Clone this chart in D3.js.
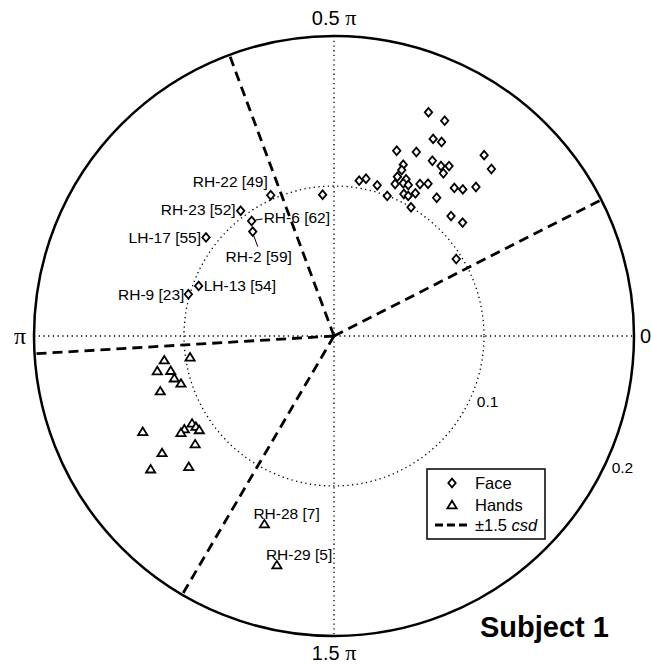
<!DOCTYPE html>
<html>
<head>
<meta charset="utf-8">
<script src="https://cdn.jsdelivr.net/npm/d3@7"></script>
<style>
  body { margin: 0; background: #fff; }
  svg { display: block; font-family: "Liberation Sans", Arial, sans-serif; }
</style>
</head>
<body>
<svg id="chart"></svg>
<script>
// angles in degrees, radius in data units (outer ring = 0.2)
var faceTheta = [67.1, 62.8, 63.3, 61.0, 71.3, 65.9, 50.3, 46.7, 60.7, 57.8, 55.9, 56.1, 68.0, 67.8, 68.3, 65.3, 65.6, 63.8, 68.1,
                 60.5, 58.3, 80.8, 78.5, 74.0, 69.2, 63.8, 62.1, 60.3, 59.1, 53.4, 50.9, 48.7, 46.4, 45.7, 41.4, 32.2, 94.6];
var faceRho = [0.1619, 0.1614, 0.1471, 0.1479, 0.1304, 0.1344, 0.1567, 0.1530, 0.1340, 0.1339, 0.1368, 0.1307, 0.1232, 0.1195,
               0.1143, 0.1150, 0.1118, 0.1122, 0.1092, 0.1164, 0.1193, 0.1049, 0.1070, 0.1045, 0.0999, 0.1055, 0.1057, 0.1095,
               0.1000, 0.1148, 0.1272, 0.1301, 0.1372, 0.1117, 0.1143, 0.0963, 0.0945];

var handsTheta = [188.1, 188.4, 191.2, 192.0, 194.8, 197.2, 197.6, 211.6, 213.3, 214.9, 211.9, 212.3, 206.6, 217.9, 214.2, 216.0, 222.0];
var handsRho = [0.1143, 0.0970, 0.1201, 0.1113, 0.1101, 0.1068, 0.1215, 0.1111, 0.1101, 0.1095, 0.1175, 0.1207, 0.1426, 0.1173,
                0.1386, 0.1511, 0.1303];

var faceLabelNames = ["RH-22 [49]", "RH-23 [52]", "RH-6 [62]", "RH-2 [59]", "LH-17 [55]", "LH-13 [54]", "RH-9 [23]"];
var faceLabelTheta = [114.2, 126.7, 125.6, 127.9, 142.4, 159.7, 164.0];
var faceLabelRho = [0.1029, 0.1041, 0.0943, 0.0882, 0.1077, 0.0962, 0.1010];

var handsLabelNames = ["RH-28 [7]", "RH-29 [5]"];
var handsLabelTheta = [249.7, 256.0];
var handsLabelRho = [0.1337, 0.1574];

// mean +/- 1.5 csd boundaries
var faceCsd = [27.0, 110.4];
var handsCsd = [183.4, 239.6];

var rhoTicks = [0.1, 0.2];
var angleLabels = ["0", "0.5", "", "1.5"];

var W = 651, H = 665;
var cx = 334, cy = 336, R = 300;

var svg = d3.select("#chart").attr("width", W).attr("height", H);

var r = d3.scaleLinear().domain([0, 0.2]).range([0, R]);
function px(t, rho) { return cx + r(rho) * Math.cos(t * Math.PI / 180); }
function py(t, rho) { return cy - r(rho) * Math.sin(t * Math.PI / 180); }

// dotted axes + inner ring
svg.append("line").attr("x1", cx - R).attr("x2", cx + R).attr("y1", cy).attr("y2", cy)
    .attr("stroke", "#000").attr("stroke-width", 1.3).attr("stroke-dasharray", "1.3,3.4");
svg.append("line").attr("x1", cx).attr("x2", cx).attr("y1", cy - R).attr("y2", cy + R)
    .attr("stroke", "#000").attr("stroke-width", 1.3).attr("stroke-dasharray", "1.3,3.4");
svg.append("circle").attr("cx", cx).attr("cy", cy).attr("r", r(rhoTicks[0]))
    .attr("fill", "none").attr("stroke", "#000").attr("stroke-width", 1.3).attr("stroke-dasharray", "1.3,3.4");
svg.append("circle").attr("cx", cx).attr("cy", cy).attr("r", r(rhoTicks[1]))
    .attr("fill", "none").attr("stroke", "#000").attr("stroke-width", 2.5);

// rho labels
svg.selectAll(".rlab").data(rhoTicks).enter().append("text")
    .attr("x", function (d) { return px(-26, d) + 8; })
    .attr("y", function (d) { return py(-26, d); })
    .attr("dy", "0.35em").attr("font-size", 15.5).text(function (d) { return d; });

// angle labels
var topLab = svg.append("text").attr("x", cx).attr("y", cy - R - 11).attr("text-anchor", "middle").attr("font-size", 20);
topLab.append("tspan").text(angleLabels[1] + " ");
topLab.append("tspan").attr("font-family", "Liberation Serif, serif").attr("font-size", 22).text("\u03c0");
var botLab = svg.append("text").attr("x", cx).attr("y", cy + R + 24).attr("text-anchor", "middle").attr("font-size", 20);
botLab.append("tspan").text(angleLabels[3] + " ");
botLab.append("tspan").attr("font-family", "Liberation Serif, serif").attr("font-size", 22).text("\u03c0");
svg.append("text").attr("x", cx - R - 8).attr("y", cy).attr("dy", "0.35em").attr("text-anchor", "end")
    .attr("font-family", "Liberation Serif, serif").attr("font-size", 24).text("\u03c0");
svg.append("text").attr("x", cx + R + 6).attr("y", cy).attr("dy", "0.35em").attr("font-size", 20).text(angleLabels[0]);

// csd rays
svg.selectAll(".ray").data(faceCsd.concat(handsCsd)).enter().append("line")
    .attr("x1", cx).attr("y1", cy)
    .attr("x2", function (d) { return px(d, 0.2); })
    .attr("y2", function (d) { return py(d, 0.2); })
    .attr("stroke", "#000").attr("stroke-width", 2.8).attr("stroke-dasharray", "10,6");

var diamond = "M0,-4.3L3.7,0L0,4.3L-3.7,0Z";
var triangle = "M0,-4.2L4.6,3.3L-4.6,3.3Z";

function drawMarks(thetas, rhos, shape) {
    svg.append("g").selectAll("path").data(thetas).enter().append("path")
        .attr("d", shape)
        .attr("transform", function (d, i) { return "translate(" + px(d, rhos[i]) + "," + py(d, rhos[i]) + ")"; })
        .attr("fill", "#fff").attr("stroke", "#000").attr("stroke-width", 1.8);
}
drawMarks(faceTheta, faceRho, diamond);
drawMarks(faceLabelTheta, faceLabelRho, diamond);
drawMarks(handsTheta, handsRho, triangle);
drawMarks(handsLabelTheta, handsLabelRho, triangle);

// label placement relative to each marker
var faceLabelLayout = [
    { anchor: "end", dx: -3, dy: -14 },
    { anchor: "end", dx: -5, dy: -1 },
    { anchor: "start", dx: 12, dy: -3, lead: [4, -1, 11, -2] },
    { anchor: "middle", dx: 6, dy: 25, lead: [1, 4, 5, 15] },
    { anchor: "end", dx: -5, dy: 0 },
    { anchor: "start", dx: 5, dy: 0 },
    { anchor: "end", dx: -4, dy: 0 }
];
var handsLabelLayout = [
    { anchor: "start", dx: -11, dy: -11 },
    { anchor: "start", dx: -11, dy: -11 }
];

function drawLabels(names, thetas, rhos, layout) {
    names.forEach(function (n, i) {
        var x = px(thetas[i], rhos[i]), y = py(thetas[i], rhos[i]), L = layout[i];
        if (L.lead) {
            svg.append("line").attr("x1", x + L.lead[0]).attr("y1", y + L.lead[1])
                .attr("x2", x + L.lead[2]).attr("y2", y + L.lead[3])
                .attr("stroke", "#000").attr("stroke-width", 1);
        }
        svg.append("text").attr("x", x + L.dx).attr("y", y + L.dy).attr("dy", "0.35em")
            .attr("text-anchor", L.anchor).attr("font-size", 15.5).text(n);
    });
}
drawLabels(faceLabelNames, faceLabelTheta, faceLabelRho, faceLabelLayout);
drawLabels(handsLabelNames, handsLabelTheta, handsLabelRho, handsLabelLayout);

// legend
var lg = svg.append("g").attr("transform", "translate(427,469)");
lg.append("rect").attr("width", 118).attr("height", 70).attr("fill", "#fff").attr("stroke", "#000").attr("stroke-width", 1.5);
lg.append("path").attr("d", diamond).attr("transform", "translate(25,14)")
    .attr("fill", "#fff").attr("stroke", "#000").attr("stroke-width", 1.8);
lg.append("path").attr("d", triangle).attr("transform", "translate(25,36)")
    .attr("fill", "#fff").attr("stroke", "#000").attr("stroke-width", 1.8);
lg.append("line").attr("x1", 8).attr("x2", 42).attr("y1", 56).attr("y2", 56)
    .attr("stroke", "#000").attr("stroke-width", 2.8).attr("stroke-dasharray", "8,4");
lg.append("text").attr("x", 48).attr("y", 14).attr("dy", "0.35em").attr("font-size", 16.5).text("Face");
lg.append("text").attr("x", 48).attr("y", 36).attr("dy", "0.35em").attr("font-size", 16.5).text("Hands");
var csdText = lg.append("text").attr("x", 48).attr("y", 56).attr("dy", "0.35em").attr("font-size", 16.5);
csdText.append("tspan").text("\u00b11.5 ");
csdText.append("tspan").attr("font-style", "italic").text("csd");

svg.append("text").attr("x", 480).attr("y", 637).attr("font-size", 29).attr("font-weight", "bold").text("Subject 1");
</script>
</body>
</html>
